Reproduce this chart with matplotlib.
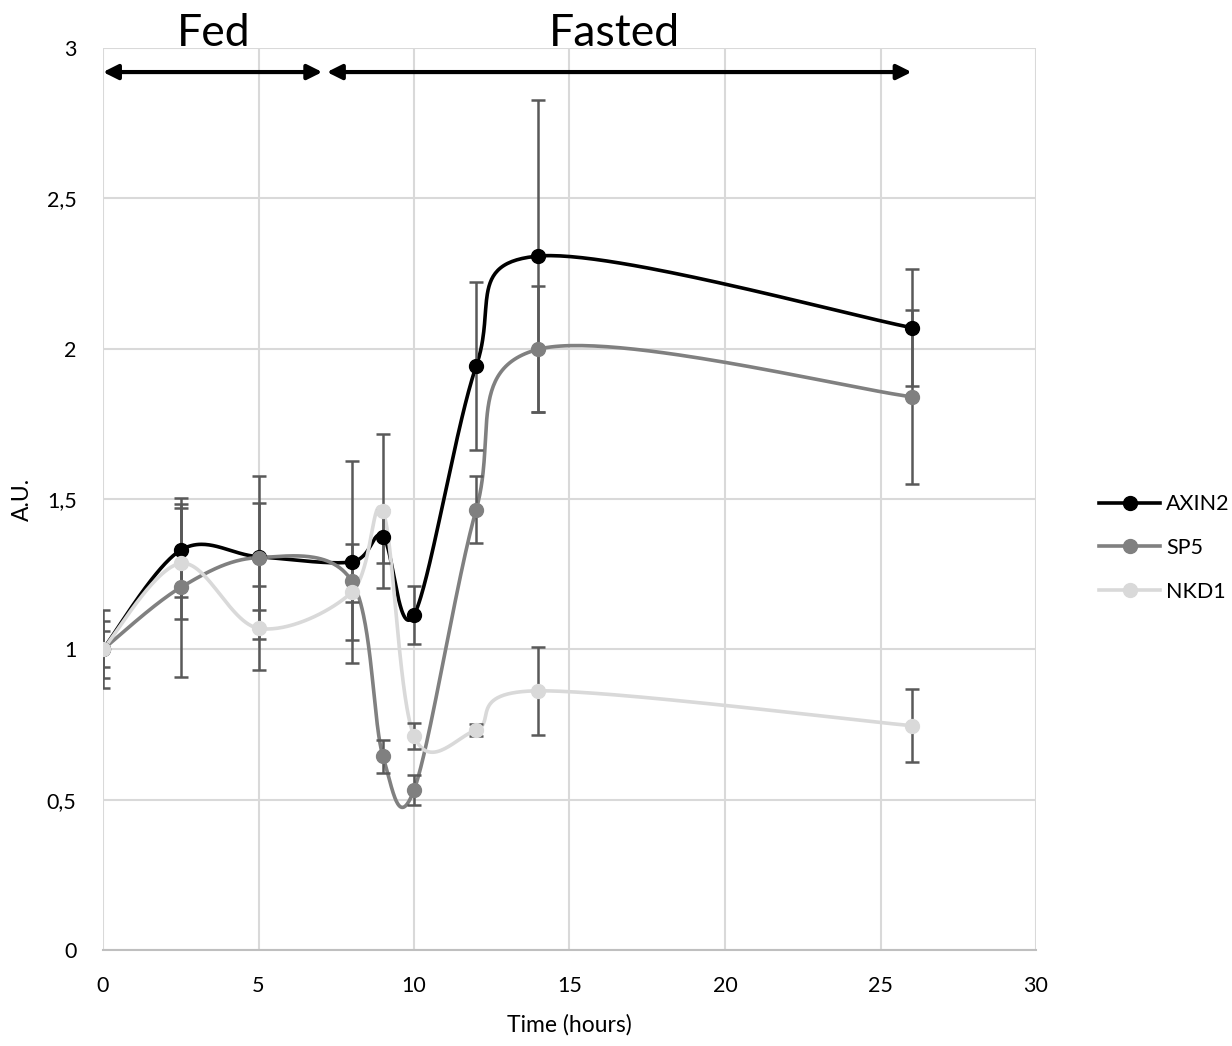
import numpy as np
import matplotlib
matplotlib.use('Agg')
import matplotlib.pyplot as plt
from matplotlib.lines import Line2D
from matplotlib.ticker import FuncFormatter, MultipleLocator

plt.rcParams['font.family'] = ['Lato', 'DejaVu Sans']

# values
time_h = [0, 2.5, 5, 8, 9, 10, 12, 14, 26]
axin2 = [1.0, 1.33, 1.308, 1.291, 1.375, 1.114, 1.942, 2.308, 2.07]
axin2_err = [0.06, 0.155, 0.178, 0.335, 0.087, 0.095, 0.28, 0.52, 0.195]
sp5 = [1.0, 1.206, 1.305, 1.227, 0.645, 0.532, 1.465, 1.998, 1.84]
sp5_err = [0.13, 0.298, 0.27, 0.07, 0.055, 0.05, 0.11, 0.21, 0.29]
nkd1 = [1.0, 1.286, 1.07, 1.19, 1.46, 0.712, 0.732, 0.862, 0.746]
nkd1_err = [0.095, 0.185, 0.14, 0.16, 0.255, 0.043, 0.02, 0.147, 0.122]

series = [
    ('AXIN2', axin2, axin2_err, '#000000'),
    ('SP5', sp5, sp5_err, '#808080'),
    ('NKD1', nkd1, nkd1_err, '#d9d9d9'),
]

fed_span = (0, 7.05)
fasted_span = (7.2, 26)


def excel_smooth(x, y, n=60):
    # bezier smoothing like the spreadsheet "smoothed line" option
    pts = np.column_stack([x, y]).astype(float)
    p = np.vstack([pts[0], pts, pts[-1]])
    t = np.linspace(0, 1, n)[:, None]
    out = []
    for i in range(1, len(p) - 2):
        p0, p1, p2, p3 = p[i - 1], p[i], p[i + 1], p[i + 2]
        c1 = p1 + (p2 - p0) / 6
        c2 = p2 - (p3 - p1) / 6
        seg = (1 - t) ** 3 * p1 + 3 * (1 - t) ** 2 * t * c1 + 3 * (1 - t) * t ** 2 * c2 + t ** 3 * p2
        out.append(seg if i == 1 else seg[1:])
    return np.vstack(out)


fig = plt.figure(figsize=(12.32, 10.46), dpi=100)
ax = fig.add_axes([103 / 1232, 1 - 950 / 1046, 933 / 1232, 902 / 1046])

for name, vals, err, col in series:
    curve = excel_smooth(time_h, vals)
    ax.plot(curve[:, 0], curve[:, 1], color=col, lw=2.6, zorder=2, solid_capstyle='round')
    ax.errorbar(time_h, vals, yerr=err, fmt='none', ecolor='#595959', elinewidth=1.8,
                capsize=5, capthick=1.8, zorder=3)
    ax.plot(time_h, vals, 'o', color=col, ms=10, zorder=4)

ax.set_xlim(0, 30)
ax.set_ylim(0, 3)
ax.xaxis.set_major_locator(MultipleLocator(5))
ax.yaxis.set_major_locator(MultipleLocator(0.5))
ax.yaxis.set_major_formatter(FuncFormatter(lambda v, p: f'{v:g}'.replace('.', ',')))
ax.grid(True, color='#d9d9d9', lw=1.5)
ax.set_axisbelow(True)
for s in ['top', 'right', 'left']:
    ax.spines[s].set_visible(False)
ax.spines['bottom'].set_color('#bfbfbf')
ax.spines['bottom'].set_linewidth(1.5)
ax.tick_params(length=0, labelsize=15.5, colors='#000000')
ax.tick_params(axis='y', pad=19)
ax.tick_params(axis='x', pad=19)
ax.set_xlabel('Time (hours)', fontsize=16.5, labelpad=13)
ax.set_ylabel('A.U.', fontsize=16.5, labelpad=10)

# Fed / Fasted arrows
arrow_y = 2.92
for span in (fed_span, fasted_span):
    ax.annotate('', xy=(span[0], arrow_y), xytext=(span[1], arrow_y),
                arrowprops=dict(arrowstyle='<|-|>', lw=3, color='black',
                                mutation_scale=22, shrinkA=0, shrinkB=0),
                annotation_clip=False)
ax.text(3.55, 3.005, 'Fed', fontsize=32, ha='center', va='baseline', clip_on=False)
ax.text(16.45, 3.005, 'Fasted', fontsize=32, ha='center', va='baseline', clip_on=False)

handles = [Line2D([], [], color=col, lw=2.6, marker='o', ms=10) for _, _, _, col in series]
fig.legend(handles, [s[0] for s in series], loc='center left',
           bbox_to_anchor=(1080 / 1232, 1 - 548 / 1046), frameon=False,
           fontsize=15.5, handlelength=2.8, handletextpad=0.3, labelspacing=1.1)

fig.savefig('out.png', dpi=100)
